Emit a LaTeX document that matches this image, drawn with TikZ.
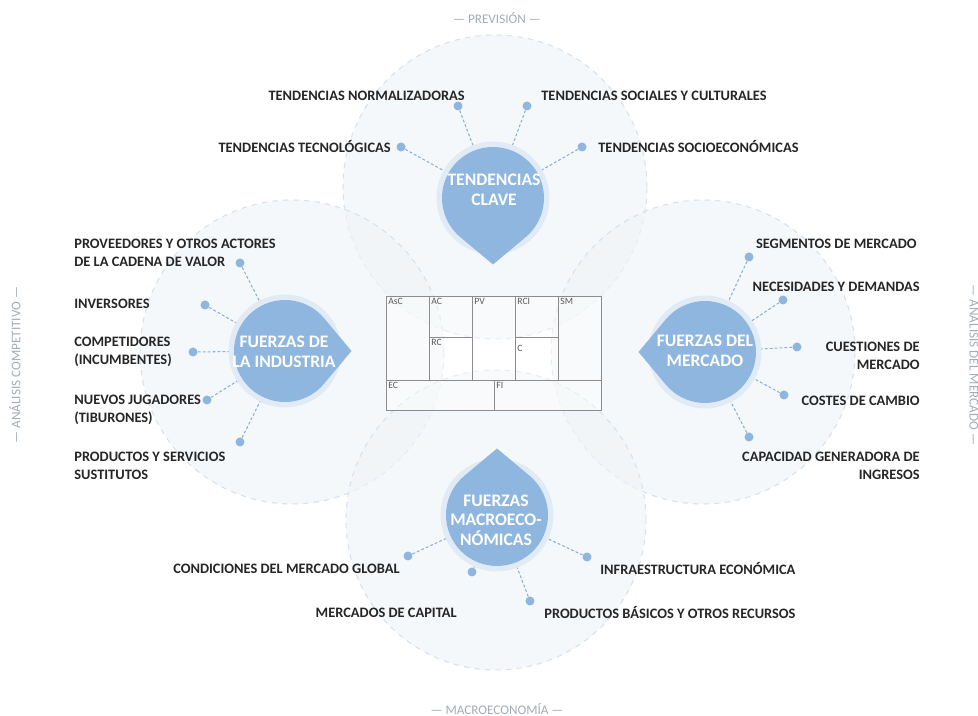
\documentclass[tikz,border=0pt]{standalone}
\usepackage{fontspec}
\setmainfont{Carlito}
\usetikzlibrary{positioning}
\definecolor{gotaazul}{HTML}{8FB6DF}
\definecolor{halo}{HTML}{E1EBF5}
\definecolor{circfondo}{HTML}{EFF4F8}
\definecolor{circborde}{HTML}{D6E2ED}
\definecolor{linea}{HTML}{8DAFD2}
\definecolor{texto}{HTML}{262626}
\definecolor{gris}{HTML}{A3ACB5}
\tikzset{
	%Define style for labels
	etiqueta/.style={
		text=texto,
		font=\bfseries\fontsize{8.2}{10.2}\selectfont,
		inner sep=0pt},
	titulo/.style={
		text=white, align=center,
		font=\bfseries\fontsize{10}{11.2}\selectfont,
		inner sep=0pt},
	lateral/.style={
		text=gris,
		font=\fontsize{7.5}{9}\selectfont,
		inner sep=0pt},
	bloque/.style={
		text=black!65,
		font=\fontsize{5.5}{6}\selectfont,
		inner sep=0pt, anchor=north west},
	punto/.style={
		circle, fill=gotaazul,
		minimum size=0.18cm, inner sep=0pt},
	conector/.style={
		draw=linea, dash pattern=on 1.6pt off 1.2pt, line width=0.6pt},
	circulo/.style={
		fill=circfondo, fill opacity=0.6,
		draw=circborde, dashed, line width=0.6pt},
	pics/gota/.style={code={
		\fill[halo] (0,0) circle (1.13cm);
		\fill[gotaazul] ({#1+40}:1.02cm) arc[start angle={#1+40}, end angle={#1+320}, radius=1.02cm] -- (#1:1.33cm) -- cycle;
	}}
}

\begin{document}
\begin{tikzpicture}[x=0.02cm, y=0.02cm]
	\fill[white] (0,0) rectangle (978,716);
	\useasboundingbox (0,0) rectangle (978,716);

	% centres
	\coordinate (gtend) at (493,518);
	\coordinate (gind) at (285,365);
	\coordinate (gmer) at (705,364);
	\coordinate (gmac) at (497,201);

	% circles
	\draw[circulo] (495,529) circle (3.04cm);
	\draw[circulo] (292,364) circle (3.04cm);
	\draw[circulo] (703,364) circle (3.04cm);
	\draw[circulo] (496,196) circle (3.00cm);

	% canvas
	\fill[white, fill opacity=0.4] (386,306) rectangle (601,420);
	\draw[black!45, line width=0.5pt] (386,306) rectangle (601,420);
	\draw[black!45, line width=0.5pt] (429,336) -- (429,420) (472,336) -- (472,420)
		(515,336) -- (515,420) (558,336) -- (558,420)
		(429,379) -- (472,379) (515,379) -- (558,379)
		(386,336) -- (601,336) (494,306) -- (494,336);
	\node[bloque] (asc) at (388,418) {AsC};
	\node[bloque] (ac) at (431,418) {AC};
	\node[bloque] (pv) at (474,418) {PV};
	\node[bloque] (rci) at (517,418) {RCI};
	\node[bloque] (sm) at (560,418) {SM};
	\node[bloque] (rc) at (431,377) {RC};
	\node[bloque] (cl) at (517,371) {C};
	\node[bloque] (ec) at (388,334) {EC};
	\node[bloque] (fi) at (496,334) {FI};

	% dots
	\node[punto] (dnorm) at (458,610) {};
	\node[punto] (dsoc) at (527,610) {};
	\node[punto] (dtec) at (401,569) {};
	\node[punto] (dsocio) at (582,569) {};
	\node[punto] (dprov) at (240,453) {};
	\node[punto] (dinv) at (205,411) {};
	\node[punto] (dcomp) at (193,364) {};
	\node[punto] (dnuev) at (207,316) {};
	\node[punto] (dsust) at (240,274) {};
	\node[punto] (dseg) at (749,459) {};
	\node[punto] (dnec) at (783,416) {};
	\node[punto] (dcue) at (797,369) {};
	\node[punto] (dcos) at (784,321) {};
	\node[punto] (dcap) at (749,279) {};
	\node[punto] (dglob) at (408,160) {};
	\node[punto] (dmcap) at (472,144) {};
	\node[punto] (dinf) at (587,159) {};
	\node[punto] (dbas) at (530,115) {};

	% connectors
	\foreach \d in {dnorm,dsoc,dtec,dsocio}
		\draw[conector] (\d) -- (gtend);
	\foreach \d in {dprov,dinv,dcomp,dnuev,dsust}
		\draw[conector] (\d) -- (gind);
	\foreach \d in {dseg,dnec,dcue,dcos,dcap}
		\draw[conector] (\d) -- (gmer);
	\foreach \d in {dglob,dmcap,dinf,dbas}
		\draw[conector] (\d) -- (gmac);

	% drops
	\pic at (gtend) {gota=-90};
	\pic at (gind) {gota=0};
	\pic at (gmer) {gota=180};
	\pic at (gmac) {gota=90};
	\node[titulo] (tclave) at (494,526) {TENDENCIAS\\CLAVE};
	\node[titulo] (tind) at (284,364) {FUERZAS DE\\LA INDUSTRIA};
	\node[titulo] (tmer) at (705,365) {FUERZAS DEL\\MERCADO};
	\node[titulo] (tmac) at (496,196) {FUERZAS\\MACROECO-\\NÓMICAS};

	% labels
	\node[etiqueta, anchor=east] (lnorm) at (465,620) {TENDENCIAS NORMALIZADORAS};
	\node[etiqueta, anchor=west] (lsoc) at (541,620) {TENDENCIAS SOCIALES Y CULTURALES};
	\node[etiqueta, anchor=east] (ltec) at (391,569) {TENDENCIAS TECNOLÓGICAS};
	\node[etiqueta, anchor=west] (lsocio) at (598,569) {TENDENCIAS SOCIOECONÓMICAS};
	\node[etiqueta, anchor=west, align=left] (lprov) at (74,463) {PROVEEDORES Y OTROS ACTORES\\DE LA CADENA DE VALOR};
	\node[etiqueta, anchor=west] (linv) at (74,412) {INVERSORES};
	\node[etiqueta, anchor=west, align=left] (lcomp) at (74,364) {COMPETIDORES\\(INCUMBENTES)};
	\node[etiqueta, anchor=west, align=left] (lnuev) at (74,306) {NUEVOS JUGADORES\\(TIBURONES)};
	\node[etiqueta, anchor=west, align=left] (lsust) at (74,250) {PRODUCTOS Y SERVICIOS\\SUSTITUTOS};
	\node[etiqueta, anchor=east] (lseg) at (917,472) {SEGMENTOS DE MERCADO};
	\node[etiqueta, anchor=east] (lnec) at (920,429) {NECESIDADES Y DEMANDAS};
	\node[etiqueta, anchor=east, align=right] (lcue) at (920,360) {CUESTIONES DE\\MERCADO};
	\node[etiqueta, anchor=east] (lcos) at (920,315) {COSTES DE CAMBIO};
	\node[etiqueta, anchor=east, align=right] (lcap) at (920,250) {CAPACIDAD GENERADORA DE\\INGRESOS};
	\node[etiqueta, anchor=east] (lglob) at (400,147) {CONDICIONES DEL MERCADO GLOBAL};
	\node[etiqueta, anchor=east] (lmcap) at (457,103) {MERCADOS DE CAPITAL};
	\node[etiqueta, anchor=west] (linf) at (600,147) {INFRAESTRUCTURA ECONÓMICA};
	\node[etiqueta, anchor=west] (lbas) at (544,103) {PRODUCTOS BÁSICOS Y OTROS RECURSOS};

	% side titles
	\node[lateral] (prev) at (497,698) {— PREVISIÓN —};
	\node[lateral] (macro) at (497,7) {— MACROECONOMÍA —};
	\node[lateral, rotate=90] (comp) at (15,351) {— ANÁLISIS COMPETITIVO —};
	\node[lateral, rotate=-90] (merc) at (975,351) {— ANÁLISIS DEL MERCADO —};
\end{tikzpicture}
\end{document}
